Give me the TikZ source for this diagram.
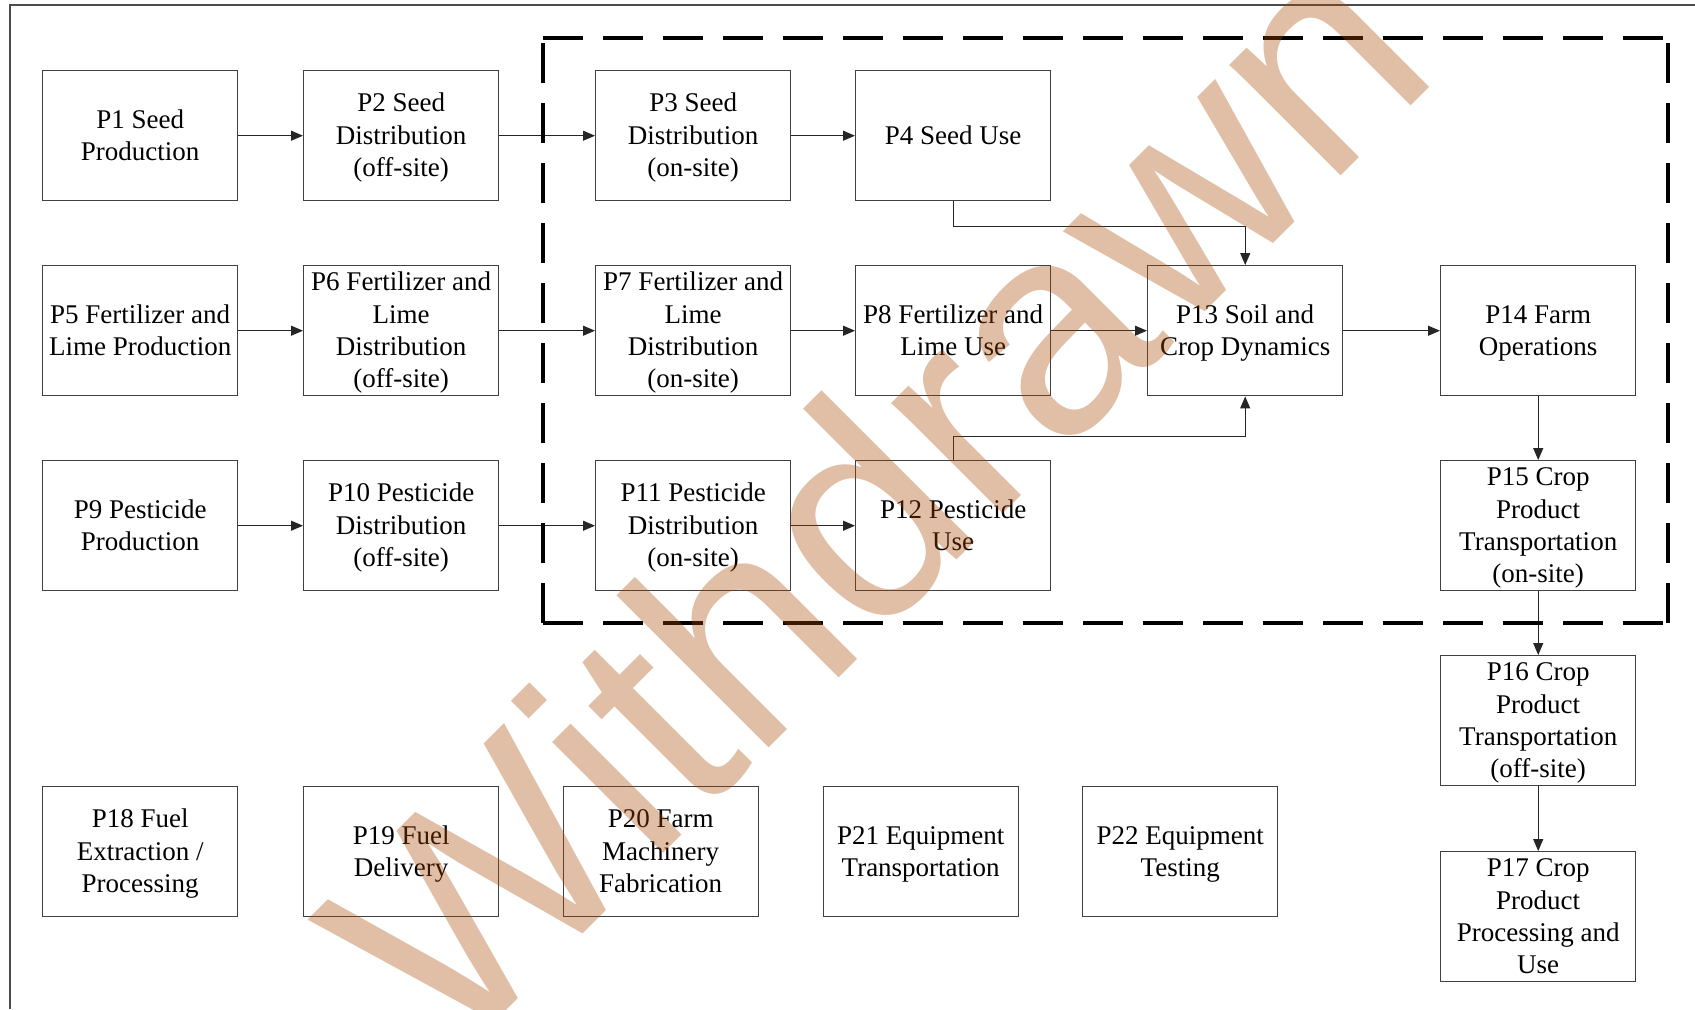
\documentclass[tikz,border=0pt]{standalone}
\usepackage{fontspec}
\setmainfont{Liberation Serif}
\newfontfamily\wmfont{Liberation Sans}
\usetikzlibrary{arrows.meta}
\definecolor{wm}{RGB}{170,70,0}
\newcommand\tstr{\rule{0pt}{11.5pt}}
\newcommand\bstr{\rule[-3pt]{0pt}{3pt}}
\begin{document}
\begin{tikzpicture}[x=0.5pt,y=-0.5pt,
  proc/.style={draw=black!75, line width=0.7pt, minimum width=97.5pt, minimum height=65pt,
    inner sep=0pt, align=center, anchor=north west, font=\fontsize{13.5}{16.2}\selectfont},
  conn/.style={line width=0.5pt, draw=black!85, -{Triangle[length=6pt,width=5pt]}},
  dsh/.style={line width=2.25pt, dash pattern=on 20pt off 10pt},
  frame/.style={line width=0.7pt, draw=black!70}]
\useasboundingbox (0,0) rectangle (1695,1009);
\fill[white] (0,0) rectangle (1695,1009);
\draw[frame] (10,1009) -- (10,5) -- (1695,5);

% row 1
\node[proc] (p1) at (42,70) {\tstr P1 Seed\\Production\bstr};
\node[proc] (p2) at (303,70) {\tstr P2 Seed\\Distribution\\(off-site)\bstr};
\node[proc] (p3) at (595,70) {\tstr P3 Seed\\Distribution\\(on-site)\bstr};
\node[proc] (p4) at (855,70) {\tstr P4 Seed Use\bstr};
% row 2
\node[proc] (p5) at (42,265) {\tstr P5 Fertilizer and\\Lime Production\bstr};
\node[proc] (p6) at (303,265) {\tstr P6 Fertilizer and\\Lime\\Distribution\\(off-site)\bstr};
\node[proc] (p7) at (595,265) {\tstr P7 Fertilizer and\\Lime\\Distribution\\(on-site)\bstr};
\node[proc] (p8) at (855,265) {\tstr P8 Fertilizer and\\Lime Use\bstr};
\node[proc] (p13) at (1147,265) {\tstr P13 Soil and\\Crop Dynamics\bstr};
\node[proc] (p14) at (1440,265) {\tstr P14 Farm\\Operations\bstr};
% row 3
\node[proc] (p9) at (42,460) {\tstr P9 Pesticide\\Production\bstr};
\node[proc] (p10) at (303,460) {\tstr P10 Pesticide\\Distribution\\(off-site)\bstr};
\node[proc] (p11) at (595,460) {\tstr P11 Pesticide\\Distribution\\(on-site)\bstr};
\node[proc] (p12) at (855,460) {\tstr P12 Pesticide\\Use\bstr};
\node[proc] (p15) at (1440,460) {\tstr P15 Crop\\Product\\Transportation\\(on-site)\bstr};
% right column
\node[proc] (p16) at (1440,655) {\tstr P16 Crop\\Product\\Transportation\\(off-site)\bstr};
\node[proc] (p17) at (1440,851) {\tstr P17 Crop\\Product\\Processing and\\Use\bstr};
% bottom row
\node[proc] (p18) at (42,786) {\tstr P18 Fuel\\Extraction /\\Processing\bstr};
\node[proc] (p19) at (303,786) {\tstr P19 Fuel\\Delivery\bstr};
\node[proc] (p20) at (562.5,786) {\tstr P20 Farm\\Machinery\\Fabrication\bstr};
\node[proc] (p21) at (822.5,786) {\tstr P21 Equipment\\Transportation\bstr};
\node[proc] (p22) at (1082,786) {\tstr P22 Equipment\\Testing\bstr};

% connectors
\draw[conn] (p1.east) -- (p2.west);
\draw[conn] (p2.east) -- (p3.west);
\draw[conn] (p3.east) -- (p4.west);
\draw[conn] (p5.east) -- (p6.west);
\draw[conn] (p6.east) -- (p7.west);
\draw[conn] (p7.east) -- (p8.west);
\draw[conn] (p8.east) -- (p13.west);
\draw[conn] (p13.east) -- (p14.west);
\draw[conn] (p9.east) -- (p10.west);
\draw[conn] (p10.east) -- (p11.west);
\draw[conn] (p11.east) -- (p12.west);
\draw[conn] (p4.south) -- ++(0,25) -| (p13.north);
\draw[conn] (p12.north) -- ++(0,-24) -| (p13.south);
\draw[conn] (p14.south) -- (p15.north);
\draw[conn] (p15.south) -- (p16.north);
\draw[conn] (p16.south) -- (p17.north);

% dashed boundary
\coordinate (bl) at (543,623);
\coordinate (tl) at (543,38);
\coordinate (tr) at (1668,38);
\coordinate (br) at (1668,623);
\draw[dsh] (bl) -- (tl);
\draw[dsh] (tl) -- (tr);
\draw[dsh] (br) -- (tr);
\draw[dsh] (bl) -- (br);

% watermark
\node[font=\wmfont\fontsize{148.5}{150}\selectfont, text=wm, text opacity=0.35,
  rotate=45, anchor=base west, inner sep=0pt] (wmark) at (451,1066) {Withdrawn};
\end{tikzpicture}
\end{document}
